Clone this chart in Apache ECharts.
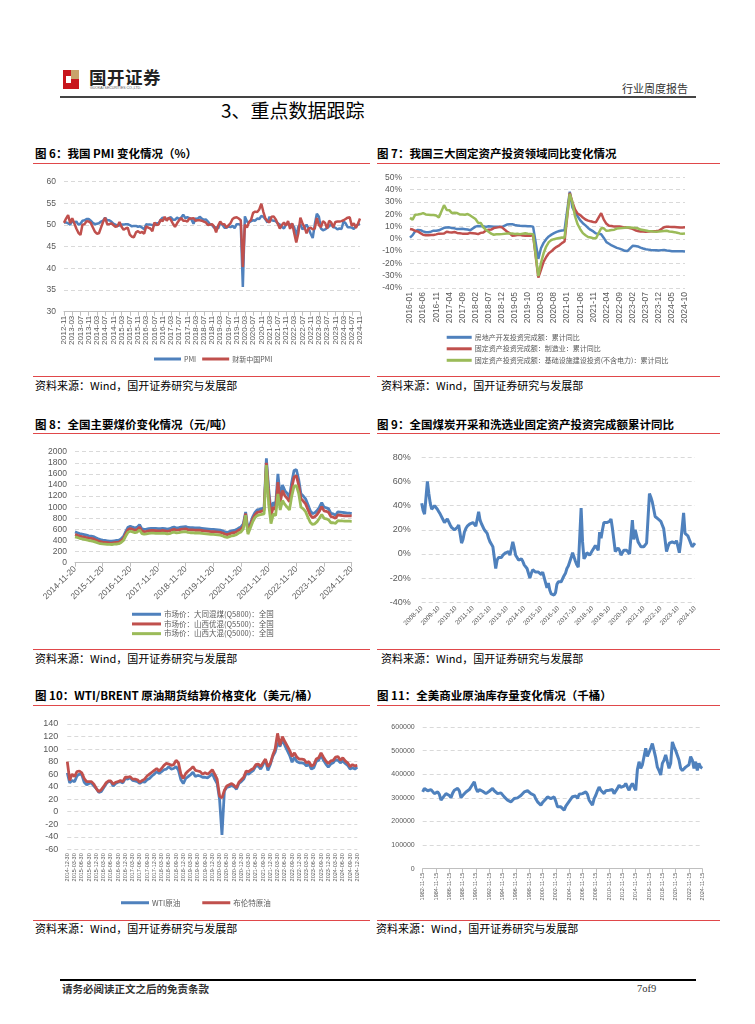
<!DOCTYPE html>
<html><head><meta charset="utf-8">
<script src="https://cdn.jsdelivr.net/npm/echarts@6/dist/echarts.min.js"></script>
<style>
html,body{margin:0;padding:0;background:#fff;}
body{width:755px;height:1024px;position:relative;overflow:hidden;font-family:"Noto Sans CJK SC","Noto Sans",sans-serif;color:#000;}
.t{position:absolute;white-space:nowrap;}
.title{font-size:11.5px;font-weight:bold;line-height:14px;}
.src{font-size:11px;line-height:14px;}
.rl{position:absolute;height:1px;background:#E0484A;}
.chart{position:absolute;}
</style></head><body>

<!-- header -->
<div class="t" style="left:63px;top:70px;width:16px;height:19px;background:#C8161D;"></div>
<div class="t" style="left:71px;top:70px;width:8px;height:9px;background:#C9A36A;"></div>
<div class="t" style="left:66px;top:76px;width:5px;height:7px;background:#fff;"></div>
<div class="t" style="left:89px;top:66px;font-size:17.5px;font-weight:bold;line-height:22px;color:#222;letter-spacing:0.5px;">国开证券</div>
<div class="t" style="left:90px;top:86px;font-size:3.5px;line-height:4px;color:#555;font-family:'Liberation Sans';">GUOKAI SECURITIES CO.,LTD.</div>
<div class="t" style="left:622px;top:81px;font-size:11px;line-height:14px;color:#333;">行业周度报告</div>
<div class="t" style="left:60px;top:96px;width:636px;height:1.5px;background:#444;"></div>
<div class="t" style="left:221px;top:98px;font-size:19px;line-height:24px;">3、重点数据跟踪</div>

<!-- row 1 -->
<div class="t title" style="left:35px;top:146px;">图 6：我国 PMI 变化情况（%）</div>
<div class="t title" style="left:377px;top:146px;">图 7：我国三大固定资产投资领域同比变化情况</div>
<div class="rl" style="left:33px;top:163px;width:337px;"></div>
<div class="rl" style="left:377px;top:163px;width:343px;"></div>
<div id="c1" class="chart" style="left:30px;top:170px;width:340px;height:200px;"></div>
<div id="c2" class="chart" style="left:375px;top:170px;width:340px;height:200px;"></div>
<div class="rl" style="left:33px;top:376px;width:337px;"></div>
<div class="rl" style="left:377px;top:376px;width:343px;"></div>
<div class="t src" style="left:35px;top:378px;">资料来源：Wind，国开证券研究与发展部</div>
<div class="t src" style="left:381px;top:378px;">资料来源：Wind，国开证券研究与发展部</div>

<!-- row 2 -->
<div class="t title" style="left:35px;top:417px;">图 8：全国主要煤价变化情况（元/吨）</div>
<div class="t title" style="left:377px;top:417px;">图 9：全国煤炭开采和洗选业固定资产投资完成额累计同比</div>
<div class="rl" style="left:33px;top:433px;width:337px;"></div>
<div class="rl" style="left:377px;top:433px;width:343px;"></div>
<div id="c3" class="chart" style="left:30px;top:440px;width:340px;height:208px;"></div>
<div id="c4" class="chart" style="left:375px;top:440px;width:340px;height:208px;"></div>
<div class="rl" style="left:33px;top:649px;width:337px;"></div>
<div class="rl" style="left:377px;top:649px;width:343px;"></div>
<div class="t src" style="left:35px;top:651px;">资料来源：Wind，国开证券研究与发展部</div>
<div class="t src" style="left:381px;top:651px;">资料来源：Wind，国开证券研究与发展部</div>

<!-- row 3 -->
<div class="t title" style="left:35px;top:688px;">图 10：WTI/BRENT 原油期货结算价格变化（美元/桶）</div>
<div class="t title" style="left:377px;top:688px;">图 11：全美商业原油库存量变化情况（千桶）</div>
<div class="rl" style="left:33px;top:705px;width:337px;"></div>
<div class="rl" style="left:377px;top:705px;width:343px;"></div>
<div id="c5" class="chart" style="left:30px;top:710px;width:340px;height:208px;"></div>
<div id="c6" class="chart" style="left:375px;top:710px;width:340px;height:208px;"></div>
<div class="rl" style="left:33px;top:920px;width:337px;"></div>
<div class="rl" style="left:377px;top:920px;width:343px;"></div>
<div class="t src" style="left:35px;top:921px;">资料来源：Wind，国开证券研究与发展部</div>
<div class="t src" style="left:376px;top:921px;">资料来源：Wind，国开证券研究与发展部</div>

<!-- footer -->
<div class="t" style="left:60px;top:979px;width:636px;height:2px;background:#000;"></div>
<div class="t" style="left:62px;top:982px;font-size:10.5px;font-weight:bold;line-height:14px;color:#333;">请务必阅读正文之后的免责条款</div>
<div class="t" style="left:637px;top:982px;font-size:10.5px;line-height:14px;color:#333;font-family:'Liberation Serif';">7of9</div>

<script>
// ---------- helpers for category labels ----------
function months(y0, m0, y1, m1, step, suffix) {
  const out = []; let y = y0, m = m0;
  while (y < y1 || (y === y1 && m <= m1)) {
    out.push(y + '-' + String(m).padStart(2, '0') + (suffix || ''));
    m += step; while (m > 12) { m -= 12; y++; }
  }
  return out;
}

// ---------- Fig 6: PMI (monthly 2012-11 .. 2024-11) ----------
const pmiCats = months(2012, 11, 2024, 11, 1, '');
const pmiOfficial = [50.6,50.6,
 50.4,50.1,50.9,50.6,50.8,50.1,50.3,51.0,51.1,51.4,51.4,51.0,
 50.5,50.2,50.3,50.4,50.8,51.0,51.7,51.1,51.1,50.8,50.3,50.1,
 49.8,49.9,50.1,50.1,50.2,50.2,50.0,49.7,49.8,49.8,49.6,49.7,
 49.4,49.0,50.2,50.1,50.1,50.0,49.9,50.4,50.4,51.2,51.7,51.4,
 51.3,51.6,51.8,51.2,51.2,51.7,51.4,51.7,52.4,51.6,51.8,51.6,
 51.3,50.3,51.5,51.4,51.9,51.5,51.2,51.3,50.8,50.2,50.0,49.4,
 49.5,49.2,50.5,50.1,49.4,49.4,49.7,49.5,49.8,49.3,50.2,50.2,
 50.0,35.7,52.0,50.8,50.6,50.9,51.1,51.0,51.5,51.4,52.1,51.9,
 51.3,50.6,51.9,51.1,51.0,50.9,50.4,50.1,49.6,49.2,50.1,50.3,
 50.1,50.2,49.5,47.4,49.6,50.2,49.0,49.4,50.1,49.2,48.0,47.0,
 50.1,52.6,51.9,49.2,48.8,49.0,49.3,49.7,50.2,49.5,49.4,49.0,
 49.2,49.1,50.8,50.4,49.5,49.5,49.4,49.1,49.8,50.1,50.3];
const pmiCaixin = [50.5,51.5,
 52.3,50.4,51.6,50.4,49.2,48.2,47.7,50.1,50.2,50.9,50.8,50.5,
 49.5,48.5,48.0,48.1,49.4,50.7,51.7,50.2,50.2,50.4,50.0,49.6,
 49.7,50.7,49.6,48.9,49.2,49.4,47.8,47.3,47.2,48.3,48.6,48.2,
 48.4,48.0,49.7,49.4,49.2,48.6,50.6,50.0,50.1,51.2,50.9,51.9,
 51.0,51.7,51.2,50.3,49.6,50.4,51.1,51.6,51.0,51.0,50.8,51.5,
 51.5,51.6,51.0,51.1,51.1,51.0,50.8,50.6,50.0,50.1,50.2,49.7,
 48.3,49.9,50.8,50.2,50.2,49.4,49.9,50.4,51.4,51.7,51.8,51.5,
 51.1,40.3,50.1,49.4,50.7,51.2,52.8,53.1,53.0,53.6,54.9,53.0,
 51.5,50.9,50.6,51.9,52.0,51.3,50.3,49.2,50.0,50.6,49.9,50.9,
 49.1,50.4,48.1,46.0,48.1,51.7,50.4,49.5,48.1,49.2,49.4,49.0,
 49.2,51.6,50.0,49.5,50.9,50.5,49.2,51.0,50.6,49.5,50.7,50.8,
 50.8,50.9,51.1,51.4,51.7,51.8,49.8,50.4,49.3,50.3,51.5];

// ---------- Fig 7: FAI cumulative YoY (monthly 2016-01 .. 2024-10, Jan not published) ----------
const faiCats = months(2016, 1, 2024, 10, 1, '');
const faiRealEstate = [
 1.0,3.0,6.2,7.2,7.0,6.1,5.3,5.4,5.8,6.6,6.5,6.9,
 null,8.9,9.1,9.3,8.8,8.5,7.9,7.9,8.1,7.8,7.5,7.0,
 null,9.9,10.4,10.3,10.2,9.7,10.2,10.1,9.9,9.7,9.7,9.5,
 null,11.6,11.8,11.9,11.2,10.9,10.6,10.5,10.5,10.3,10.2,9.9,
 null,-16.3,-7.7,-3.3,-0.3,1.9,3.4,4.6,5.6,6.3,6.8,7.0,
 null,38.3,25.6,21.6,18.3,15.0,12.7,10.9,8.8,7.2,6.0,4.4,
 null,3.7,0.7,-2.7,-4.0,-5.4,-6.4,-7.4,-8.0,-8.8,-9.8,-10.0,
 null,-5.7,-5.8,-6.2,-7.2,-7.9,-8.5,-8.8,-9.1,-9.3,-9.4,-9.6,
 null,-9.0,-9.5,-9.8,-10.1,-10.1,-10.2,-10.2,-10.1,-10.3];
const faiManufacturing = [
 8.0,7.5,6.4,6.0,4.6,3.3,2.9,2.8,3.1,3.1,3.6,4.2,
 null,4.3,5.8,5.4,5.1,5.5,4.8,4.5,4.2,4.1,4.1,4.8,
 null,4.3,3.8,4.8,5.2,6.8,7.3,7.5,8.7,9.1,9.5,9.5,
 null,5.9,4.6,2.5,2.7,3.0,3.3,2.6,2.5,2.6,2.5,3.1,
 null,-31.5,-25.2,-18.8,-14.8,-11.7,-10.2,-8.1,-6.5,-5.3,-3.5,-2.2,
 null,37.3,29.8,23.8,20.4,19.2,17.3,15.7,14.8,14.2,13.7,13.5,
 null,20.9,15.6,12.2,10.6,10.4,9.9,10.0,10.1,9.7,9.3,9.1,
 null,8.1,7.0,6.4,6.0,6.0,5.7,5.9,6.2,6.2,6.3,6.5,
 null,9.4,9.9,9.7,9.6,9.5,9.3,9.1,9.2,9.3];
const faiInfra = [
 17.0,15.6,19.6,19.8,20.1,20.9,19.8,19.6,19.4,19.4,18.9,17.4,
 null,27.3,23.5,23.3,20.9,21.1,20.9,19.8,19.8,19.6,20.1,19.0,
 null,16.1,13.0,12.9,9.4,7.3,5.7,4.2,3.3,3.7,3.7,3.8,
 null,4.3,4.4,4.4,4.0,4.1,3.8,4.2,4.5,4.2,4.0,3.8,
 null,-30.3,-19.7,-11.8,-6.3,-2.7,-1.0,-0.3,0.2,0.7,1.0,0.9,
 null,36.6,29.7,18.4,11.8,7.8,4.6,2.9,1.5,1.0,0.5,0.4,
 null,8.6,8.5,6.5,6.7,7.1,7.4,8.3,8.6,8.7,8.9,9.4,
 null,9.0,8.8,8.5,7.5,7.2,6.8,6.4,6.2,5.9,5.8,5.9,
 null,6.3,6.5,6.0,5.7,5.4,4.9,4.4,4.1,4.3];

// ---------- Fig 8: coal prices (monthly 2014-11 .. 2024-11) ----------
const coalCats = months(2014, 11, 2024, 11, 1, '-20');
const coalDatong = [555,540,
 525,515,505,495,485,480,470,450,430,415,405,400,
 395,390,388,395,400,405,430,470,560,640,658,640,
 625,640,685,610,600,605,615,620,620,618,615,615,
 620,615,605,612,630,640,625,630,640,645,650,635,
 630,630,625,628,625,620,615,610,605,600,600,595,
 590,585,575,555,545,560,575,580,595,625,645,700,
 915,590,700,820,900,950,960,975,990,1880,1330,910,
 1090,1030,1600,1180,1400,1300,1250,1180,1450,1660,1680,1500,
 1240,1200,1150,1050,940,885,900,940,1000,1080,1000,990,
 970,890,880,855,915,910,905,900,895,895,885];
const coalYouhun = [505,495,
 480,470,462,452,443,438,428,410,392,378,370,365,
 360,355,353,360,365,370,395,435,520,595,615,600,
 585,598,640,570,560,565,575,580,580,578,575,575,
 580,575,565,572,590,600,585,590,600,605,610,595,
 590,590,585,588,585,580,575,570,565,560,560,555,
 550,545,535,515,505,520,535,540,555,585,605,660,
 885,555,660,780,860,905,915,930,945,1800,1240,850,
 1000,960,1450,1090,1300,1210,1160,1100,1350,1540,1570,1400,
 1150,1110,1060,960,860,810,830,870,930,1010,935,925,
 905,830,820,800,860,855,850,845,842,845,842];
const coalDahun = [466,455,
 440,430,420,410,400,395,385,370,355,342,338,335,
 332,330,328,333,337,342,365,400,480,550,567,555,
 540,552,590,525,515,520,528,532,532,530,528,528,
 532,528,520,525,540,550,536,540,550,555,558,545,
 540,540,535,538,535,530,525,520,515,510,510,505,
 500,495,485,465,455,470,485,490,505,535,555,610,
 855,515,620,730,810,850,860,870,880,1760,1050,705,
 880,850,1240,950,1120,1050,1000,950,1200,1380,1390,1250,
 1000,970,920,820,730,690,700,740,800,870,800,790,
 770,720,720,710,760,755,752,750,748,748,746];

// ---------- Fig 9: coal mining FAI cumulative YoY (monthly 2008-10 .. 2024-10) ----------
const coalFaiCats = months(2008, 10, 2024, 10, 1, '');
const coalFai = [42,36,33,
 null,60,50,42,37,38,40,40,37,35,33,32,
 null,26,25,29,29,24,22,22,20,20,22,24,
 null,9,12,18,21,23,24,25,26,26,25,23,
 null,35,28,25,24,20,19,17,13,10,8,6,
 null,-12,-5,-3,-2,-3,-1,-2,1,0,2,-1,
 null,10,5,-1,-3,-5,-4,-4,-6,-9,-10,-12,
 null,-20,-16,-13,-14,-15,-16,-15,-16,-17,-15,-15,
 null,-28,-24,-30,-33,-34,-34,-32,-25,-23,-23,-23,
 null,-18,-16,-12,-10,-9,-3,1,0,-6,-9,-11,
 null,38,10,-4,-2,1,0,-1,1,3,5,7,
 null,3,18,13,20,26,26,26,27,27,29,21,
 null,2,3,5,3,-1,1,3,2,3,2,0,
 null,28,12,20,15,10,8,6,5,6,7,9,
 null,50,47,43,37,31,30,29,28,27,24,21,
 null,2,6,9,10,10,10,9,11,6,1,10,
 null,34,17,16,15,12,9,6,7,9];

// ---------- Fig 10: WTI / Brent settlement (monthly 2014-12 .. 2024-12) ----------
const oilCats = months(2014, 12, 2024, 12, 1, '-30');
const oilWTI = [62,
 46,50,48,57,60,59,47,43,45,46,41,37,
 31,32,38,44,48,48,41,45,47,48,46,53,
 52,54,50,49,48,45,48,47,51,53,57,60,
 64,61,64,67,68,72,68,69,72,66,51,45,
 53,56,59,63,56,58,57,55,55,54,57,61,
 52,45,20,-37,33,39,40,42,40,36,45,48,
 52,61,60,63,66,73,73,68,75,83,66,75,
 88,95,110,104,115,106,98,90,79,87,80,78,
 78,77,73,76,68,70,80,82,91,82,76,71,
 76,78,83,82,78,81,77,74,68,70,68,71];
const oilBrent = [80,
 50,60,56,64,65,62,53,48,48,48,44,37,
 32,35,40,46,49,49,44,47,48,50,48,55,
 55,56,52,52,51,47,50,52,57,60,63,66,
 69,65,69,74,77,76,74,75,82,78,60,53,
 61,65,68,72,66,65,64,60,62,60,63,67,
 60,52,25,22,34,41,43,45,42,38,47,51,
 55,65,64,67,69,75,76,72,78,84,72,77,
 90,100,125,106,120,112,105,98,88,94,87,84,
 84,83,78,80,73,75,84,86,94,87,81,77,
 81,82,87,88,82,86,81,78,72,75,73,74];

// ---------- Fig 11: US commercial crude stocks (quarterly 1982-11 .. 2024-11, thousand bbl) ----------
const stockCats = months(1982, 11, 2024, 11, 3, '-15');
const crudeStock = [325000,
 340000,344000,330000,325000, 335000,338000,318000,322000, 325000,315000,290000,300000, 307000,318000,321000,310000,
 301000,320000,332000,325000, 340000,330000,301000,310000, 318000,325000,332000,335000, 346000,352000,368000,340000,
 325000,335000,332000,328000, 325000,318000,322000,328000, 332000,340000,330000,325000, 318000,325000,321000,315000,
 304000,300000,290000,288000, 283000,290000,297000,295000, 300000,304000,310000,318000, 325000,332000,330000,322000,
 318000,315000,311000,295000, 283000,275000,269000,280000, 283000,295000,304000,308000, 297000,305000,304000,285000,
 262000,255000,262000,265000, 248000,265000,269000,285000, 293000,305000,311000,308000, 297000,315000,321000,318000,
 311000,325000,315000,290000, 283000,269000,297000,311000, 330000,346000,332000,335000, 318000,330000,335000,332000,
 340000,335000,318000,311000, 340000,354000,345000,340000, 350000,361000,345000,332000, 350000,361000,345000,332000,
 420000,453000,425000,440000, 475000,510000,475000,482000, 510000,530000,500000,470000, 430000,416000,397000,446000,
 460000,482000,453000,425000, 446000,537000,517000,500000, 500000,460000,425000,416000, 416000,430000,425000,440000,
 475000,460000,425000,453000, 416000,446000,430000,425000];

// ---------- shared styling ----------
const FONT = '"Liberation Sans", Arial, sans-serif';
const CJK = '"Noto Sans CJK SC", sans-serif';
const GRAY = '#595959';
const BLUE = '#4F81BD', RED = '#C0504D', GREEN = '#9BBB59';
const plain = v => String(v);
const pct = v => v + '%';

function yAx(min, max, interval, fs, margin, fmt) {
  return { type: 'value', min, max, interval,
    axisLine: { show: false }, axisTick: { show: false },
    splitLine: { lineStyle: { color: '#D9D9D9', type: [4, 3], width: 1 } },
    axisLabel: { color: GRAY, fontSize: fs, fontFamily: FONT, margin, formatter: fmt || plain } };
}
function xAx(cats, interval, rotate, fs, showLine, margin) {
  return { type: 'category', data: cats, boundaryGap: false,
    axisLine: { show: showLine, onZero: false, lineStyle: { color: '#BFBFBF', width: 1 } },
    axisTick: { show: showLine, interval, length: 4, lineStyle: { color: '#BFBFBF' } },
    axisLabel: { interval, rotate, fontSize: fs, color: GRAY, fontFamily: FONT, margin: margin } };
}
function ln(name, data, color, width, z) {
  return { name, type: 'line', data, symbol: 'none', showSymbol: false, connectNulls: true,
    lineStyle: { color, width }, itemStyle: { color }, z: z || 2, animation: false };
}
function lgd(names, left, top, orient, itemWidth, itemGap, fs) {
  return { data: names, left, top, orient, itemWidth, itemHeight: 3, itemGap, icon: 'rect',
    textStyle: { fontSize: fs, color: GRAY, fontFamily: CJK, padding: [0, 0, 0, -2] } };
}
function mk(id, opt) {
  const c = echarts.init(document.getElementById(id), null, { renderer: 'canvas' });
  opt.animation = false;
  c.setOption(opt);
}

// Fig 6
mk('c1', {
  grid: { left: 34, top: 11.7, width: 296, height: 130 },
  legend: lgd(['PMI', '财新中国PMI'], 119, 180.5, 'horizontal', 27, 6, 7),
  xAxis: xAx(pmiCats, 3, 90, 8, true, 4),
  yAxis: yAx(30, 60, 5, 8.5, 8),
  series: [ln('PMI', pmiOfficial, BLUE, 2.5, 2), ln('财新中国PMI', pmiCaixin, RED, 2.5, 3)]
});

// Fig 7
mk('c2', {
  grid: { left: 35, top: 7.3, width: 275, height: 110.7 },
  legend: lgd(['房地产开发投资完成额：累计同比', '固定资产投资完成额：制造业：累计同比',
               '固定资产投资完成额：基础设施建设投资(不含电力)：累计同比'],
              66.7, 158.8, 'vertical', 25, 4.5, 7),
  xAxis: xAx(faiCats, 4, 90, 8.5, false, 4),
  yAxis: yAx(-40, 50, 10, 8.5, 8, pct),
  series: [ln('房地产开发投资完成额：累计同比', faiRealEstate, BLUE, 2.5, 2),
           ln('固定资产投资完成额：制造业：累计同比', faiManufacturing, RED, 2.5, 3),
           ln('固定资产投资完成额：基础设施建设投资(不含电力)：累计同比', faiInfra, GREEN, 2.5, 4)]
});

// Fig 8
mk('c3', {
  grid: { left: 45, top: 11.7, width: 276.7, height: 111 },
  legend: lgd(['市场价：大同混煤(Q5800)：全国', '市场价：山西优混(Q5500)：全国', '市场价：山西大混(Q5000)：全国'],
              97, 165.5, 'vertical', 29, 2.2, 7.5),
  xAxis: xAx(coalCats, 11, 45, 8.5, true, 5),
  yAxis: yAx(0, 2000, 200, 8.5, 8),
  series: [ln('市场价：大同混煤(Q5800)：全国', coalDatong, BLUE, 2.8, 2),
           ln('市场价：山西优混(Q5500)：全国', coalYouhun, RED, 2.8, 3),
           ln('市场价：山西大混(Q5000)：全国', coalDahun, GREEN, 2.8, 4)]
});

// Fig 9
mk('c4', {
  grid: { left: 46.7, top: 17.3, width: 273.3, height: 145 },
  xAxis: xAx(coalFaiCats, 11, 45, 6.5, false, 5),
  yAxis: yAx(-40, 80, 20, 9, 11, pct),
  series: [ln('煤炭开采和洗选业固定资产投资完成额累计同比', coalFai, BLUE, 3, 2)]
});

// Fig 10
mk('c5', {
  grid: { left: 37.3, top: 14, width: 290, height: 125.3 },
  legend: lgd(['WTI原油', '布伦特原油'], 86, 184, 'horizontal', 28, 22, 7.5),
  xAxis: xAx(oilCats, 2, 90, 5.5, false, 4),
  yAxis: yAx(-60, 140, 20, 9, 9),
  series: [ln('WTI原油', oilWTI, BLUE, 2.8, 2), ln('布伦特原油', oilBrent, RED, 2.8, 3)]
});

// Fig 11
mk('c6', {
  grid: { left: 47.7, top: 17, width: 279.6, height: 141.7 },
  xAxis: xAx(stockCats, 7, 90, 5.5, true, 4),
  yAxis: yAx(0, 600000, 100000, 7, 8),
  series: [ln('全美商业原油库存量', crudeStock, BLUE, 3, 2)]
});
</script>
</body></html>
